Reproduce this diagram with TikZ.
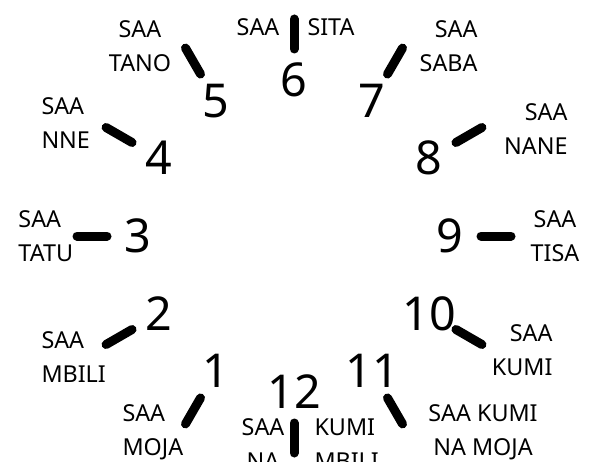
\documentclass[tikz,border=0pt]{standalone}
\usepackage{fontspec}
\setmainfont{Noto Sans}

\begin{document}
\begin{tikzpicture}[x=0.75pt, y=0.75pt, line width=6.75pt, line cap=round,
    hournum/.style={font=\fontsize{35}{40}\selectfont, inner sep=0pt},
    saa/.style={font=\fontsize{17.5}{25.5}\selectfont, inner sep=0pt}]
  \clip (0,0) rectangle (598,461);

  % ticks and numbers
  \begin{scope}[shift={(294,225)}]
    \foreach \h in {1,...,12} {
      \draw ({270-30*\h}:187) -- ({270-30*\h}:217);
      \node[hournum] (n\h) at ({270-30*\h}:156) {\h};
    }
  \end{scope}

  % names of the hours
  \node[saa] (saa6a) at (258,434) {SAA};
  \node[saa] (saa6b) at (331,434) {SITA};
  \node[saa, align=center] (saa5) at (140,414.5) {SAA\\TANO};
  \node[saa, align=right, anchor=east] (saa7) at (482,414.5) {SAA\\SABA};
  \node[saa, align=left, anchor=west] (saa4) at (37,337.5) {SAA\\NNE};
  \node[saa, align=right, anchor=east] (saa8) at (572,331.5) {SAA\\NANE};
  \node[saa, align=left, anchor=west] (saa3) at (14,225) {SAA\\TATU};
  \node[saa, align=center] (saa9) at (555,225) {SAA\\TISA};
  \node[saa, align=left, anchor=west] (saa2) at (37,103.5) {SAA\\MBILI};
  \node[saa, align=right, anchor=east] (saa10) at (557,111) {SAA\\KUMI};
  \node[saa, align=left, anchor=west] (saa1) at (118,28.5) {SAA\\MOJA};
  \node[saa, align=center] (saa11) at (483,28.5) {SAA KUMI\\NA MOJA};
  \node[saa, align=center] (saa12a) at (263,17) {SAA\\NA};
  \node[saa, align=left, anchor=west] (saa12b) at (310,17) {KUMI\\MBILI};
\end{tikzpicture}
\end{document}
